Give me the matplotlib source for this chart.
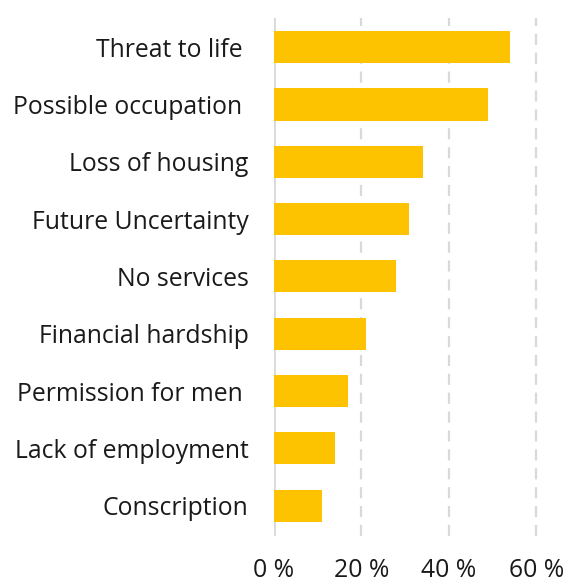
import numpy as np
import matplotlib.pyplot as plt

plt.rcParams['font.family'] = ['Open Sans', 'DejaVu Sans']

reasons = ['Threat to life ', 'Possible occupation ', 'Loss of housing',
           'Future Uncertainty', 'No services', 'Financial hardship',
           'Permission for men ', 'Lack of employment', 'Conscription']
shares = [54, 49, 34, 31, 28, 21, 17, 14, 11]
xticks = [0, 20, 40, 60]

fig = plt.figure(figsize=(5.66, 5.81), dpi=100)
ax = fig.add_axes([0.4836, 0.0775, 0.4639, 0.8915])

y = np.arange(len(reasons))
ax.barh(y, shares, height=0.56, color='#fdc300', zorder=3)

ax.set_xlim(0, 60)
ax.set_ylim(len(reasons) - 0.47, -0.51)
ax.set_yticks(y)
ax.set_yticklabels(reasons)
ax.set_xticks(xticks)
ax.set_xticklabels(['%d %%' % t for t in xticks])

# dashed guides at 20/40/60, solid baseline at 0
for t in xticks[1:]:
    ax.axvline(t, color='#d9d9d9', linewidth=1.6, linestyle=(0, (5, 3.5)), zorder=1, clip_on=False)
ax.axvline(0, color='#d9d9d9', linewidth=2, zorder=2)

for s in ax.spines.values():
    s.set_visible(False)
ax.tick_params(axis='y', length=0, pad=18, labelsize=17.8, labelcolor='#1a1a1a')
ax.tick_params(axis='x', length=0, pad=15.5, labelsize=17.8, labelcolor='#1a1a1a')

fig.savefig('out.png', dpi=100)
